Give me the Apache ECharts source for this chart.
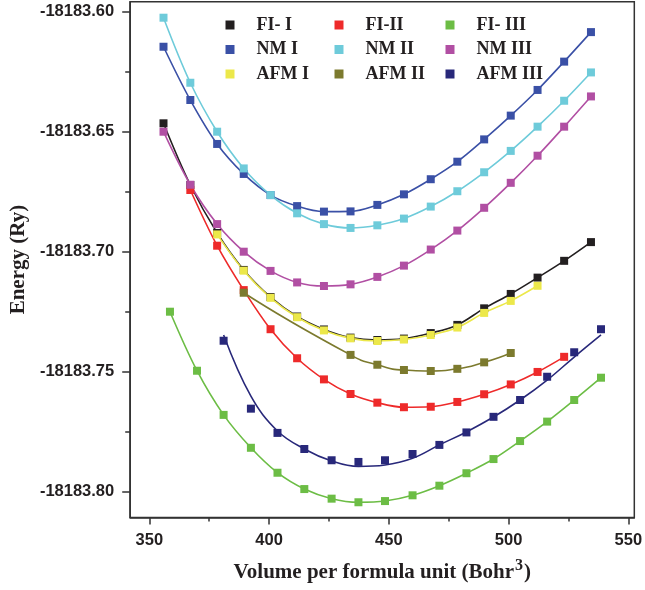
<!DOCTYPE html>
<html>
<head>
<meta charset="utf-8">
<script src="https://cdn.jsdelivr.net/npm/echarts@6/dist/echarts.min.js"></script>
<style>
html,body{margin:0;padding:0;background:#fff;}
#chart{width:645px;height:590px;}
</style>
</head>
<body>
<div id="chart"></div>
<script>
// ---- data ----
var seriesNames = ['FI- I','FI-II','FI- III','NM I','NM II','NM III','AFM I','AFM II','AFM III'];

var volFI_I   = [355.9,367.1,378.3,389.4,400.6,411.7,422.9,434.0,445.2,456.3,467.5,478.6,489.8,500.9,512.1,523.2,534.4];
var eFI_I     = [-18183.6465,-18183.6722,-18183.6922,-18183.7076,-18183.7189,-18183.7270,-18183.7324,-18183.7358,-18183.7368,-18183.7362,-18183.7339,-18183.7305,-18183.7236,-18183.7176,-18183.7108,-18183.7038,-18183.6960];

var volFI_II  = [367.1,378.3,389.4,400.6,411.7,422.9,434.0,445.2,456.3,467.5,478.6,489.8,500.9,512.1,523.2];
var eFI_II    = [-18183.6743,-18183.6975,-18183.7160,-18183.7323,-18183.7444,-18183.7532,-18183.7593,-18183.7629,-18183.7648,-18183.7646,-18183.7626,-18183.7594,-18183.7553,-18183.7501,-18183.7438];

var volFI_III = [358.6,369.9,381.0,392.4,403.5,414.7,426.1,437.3,448.4,459.9,471.1,482.4,493.7,504.8,516.1,527.4,538.6];
var eFI_III   = [-18183.7250,-18183.7496,-18183.7680,-18183.7817,-18183.7921,-18183.7989,-18183.8029,-18183.8044,-18183.8039,-18183.8015,-18183.7975,-18183.7923,-18183.7864,-18183.7789,-18183.7708,-18183.7618,-18183.7525];

var volNM     = [355.9,367.1,378.3,389.4,400.6,411.7,422.9,434.0,445.2,456.3,467.5,478.6,489.8,500.9,512.1,523.2,534.4];
var eNM_I     = [-18183.6146,-18183.6368,-18183.6551,-18183.6676,-18183.6764,-18183.6810,-18183.6833,-18183.6832,-18183.6805,-18183.6761,-18183.6698,-18183.6625,-18183.6532,-18183.6433,-18183.6326,-18183.6208,-18183.6085];
var eNM_II    = [-18183.6025,-18183.6296,-18183.6500,-18183.6653,-18183.6764,-18183.6840,-18183.6885,-18183.6901,-18183.6890,-18183.6862,-18183.6812,-18183.6748,-18183.6669,-18183.6580,-18183.6479,-18183.6371,-18183.6253];
var eNM_III   = [-18183.6500,-18183.6721,-18183.6885,-18183.7000,-18183.7080,-18183.7128,-18183.7143,-18183.7136,-18183.7105,-18183.7058,-18183.6991,-18183.6912,-18183.6817,-18183.6713,-18183.6600,-18183.6479,-18183.6353];

var volAFM_I  = [378.3,389.4,400.6,411.7,422.9,434.0,445.2,456.3,467.5,478.6,489.8,500.9,512.1];
var eAFM_I    = [-18183.6928,-18183.7079,-18183.7192,-18183.7273,-18183.7328,-18183.7361,-18183.7372,-18183.7366,-18183.7347,-18183.7316,-18183.7255,-18183.7205,-18183.7142];

var volAFM_II = [389.4,434.0,445.2,456.3,467.5,478.6,489.8,500.9];
var eAFM_II   = [-18183.7171,-18183.7430,-18183.7471,-18183.7493,-18183.7497,-18183.7488,-18183.7461,-18183.7422];

var volAFM_III = [381.0,392.4,403.5,414.7,426.1,437.3,448.4,459.9,471.1,482.4,493.7,504.8,516.1,527.4,538.6];
var eAFM_III   = [-18183.7371,-18183.7654,-18183.7755,-18183.7822,-18183.7869,-18183.7876,-18183.7869,-18183.7843,-18183.7805,-18183.7753,-18183.7688,-18183.7618,-18183.7521,-18183.7419,-18183.7323];
var eAFM_III_fit = [-18183.7347,-18183.7602,-18183.7747,-18183.7822,-18183.7872,-18183.7895,-18183.7889,-18183.7861,-18183.7805,-18183.7751,-18183.7689,-18183.7618,-18183.7535,-18183.7439,-18183.7347];

var xTickLabels = [350,400,450,500,550];
var xMinorTicks = [375,425,475,525];
var yTickLabels = [-18183.80,-18183.75,-18183.70,-18183.65,-18183.60];
var yMinorTicks = [-18183.775,-18183.725,-18183.675,-18183.625];

// ---- styling ----
var colors = {
  'FI- I':'#231f20','FI-II':'#ee2a2a','FI- III':'#6cbd45',
  'NM I':'#3a50a6','NM II':'#6ecbda','NM III':'#b14fa3',
  'AFM I':'#ece84a','AFM II':'#7c7a2e','AFM III':'#28287a'
};
function pairs(v,e){ return v.map(function(x,i){ return [x,e[i]]; }); }

function lineSeries(name, v, e, sm){
  return {
    name:name, type:'line', data:pairs(v,e), smooth:(sm || 0.35),
    symbol:'rect', symbolSize:8, showSymbol:true,
    lineStyle:{color:colors[name], width:1.6},
    itemStyle:{color:colors[name], opacity:1},
    emphasis:{disabled:true}, animation:false
  };
}

var series = [
  lineSeries('FI- I', volFI_I, eFI_I),
  lineSeries('FI-II', volFI_II, eFI_II),
  lineSeries('FI- III', volFI_III, eFI_III),
  lineSeries('NM I', volNM, eNM_I),
  lineSeries('NM II', volNM, eNM_II),
  lineSeries('NM III', volNM, eNM_III),
  lineSeries('AFM I', volAFM_I, eAFM_I),
  lineSeries('AFM II', volAFM_II, eAFM_II, 0.6),
  {
    name:'AFM III fit', type:'line', data:pairs(volAFM_III, eAFM_III_fit), smooth:0.4,
    showSymbol:false, symbol:'none', lineStyle:{color:colors['AFM III'], width:1.6},
    itemStyle:{color:colors['AFM III']}, emphasis:{disabled:true}, animation:false
  },
  {
    name:'AFM III', type:'scatter', data:pairs(volAFM_III, eAFM_III),
    symbol:'rect', symbolSize:8, itemStyle:{color:colors['AFM III'], opacity:1},
    emphasis:{disabled:true}, animation:false
  }
];

var legendText = {fontFamily:'Liberation Serif', fontWeight:'bold', fontSize:18, color:'#231f20', lineHeight:20, padding:[0,0,0,17]};
function legendCol(names, left){
  return {
    orient:'vertical', left:left, top:10, itemGap:4.5, itemWidth:9, itemHeight:9,
    icon:'rect', data:names, textStyle:legendText, selectedMode:false,
    itemStyle:{opacity:1}
  };
}

var axisFont = {fontFamily:'Liberation Sans', fontWeight:'bold', fontSize:16.5, color:'#231f20'};
var axisCol = '#333333';

var option = {
  backgroundColor:'#ffffff',
  animation:false,
  grid:{left:122.7, right:5.7, top:1.7, bottom:72.5, show:true, borderColor:axisCol, borderWidth:1.5, backgroundColor:'transparent'},
  legend:[
    legendCol(['FI- I','NM I','AFM I'], 220.5),
    legendCol(['FI-II','NM II','AFM II'], 329.5),
    legendCol(['FI- III','NM III','AFM III'], 440.5)
  ],
  xAxis:[
    {
      type:'value', min:342, max:552.5, position:'bottom',
      axisLine:{show:true, onZero:false, lineStyle:{color:axisCol, width:1.5}},
      axisTick:{show:true, customValues:xTickLabels, length:7, lineStyle:{color:axisCol, width:1.5}},
      axisLabel:Object.assign({customValues:xTickLabels, margin:14}, axisFont),
      splitLine:{show:false},
      name:'{base|Volume per formula unit (Bohr}{sup|3}{base|)}',
      nameLocation:'middle', nameGap:42,
      nameTextStyle:{
        fontFamily:'Liberation Serif', fontWeight:'bold', fontSize:21, color:'#231f20',
        rich:{
          base:{fontFamily:'Liberation Serif', fontWeight:'bold', fontSize:21, color:'#231f20', verticalAlign:'bottom', lineHeight:24},
          sup:{fontFamily:'Liberation Serif', fontWeight:'bold', fontSize:16, color:'#231f20', verticalAlign:'bottom', lineHeight:16, padding:[0,1,10,1]}
        }
      }
    },
    {
      type:'value', min:342, max:552.5, position:'bottom',
      axisLine:{show:false},
      axisTick:{show:true, customValues:xMinorTicks, length:4, lineStyle:{color:axisCol, width:1.5}},
      axisLabel:{show:false, customValues:xMinorTicks},
      splitLine:{show:false}
    }
  ],
  yAxis:[
    {
      type:'value', min:-18183.81075, max:-18183.59583, position:'left',
      axisLine:{show:true, onZero:false, lineStyle:{color:axisCol, width:1.5}},
      axisTick:{show:true, customValues:yTickLabels, length:8, lineStyle:{color:axisCol, width:1.5}},
      axisLabel:Object.assign({customValues:yTickLabels, margin:16, formatter:function(v){return v.toFixed(2);}}, axisFont),
      splitLine:{show:false},
      name:'Energy (Ry)', nameLocation:'middle', nameGap:94, nameRotate:90,
      nameTextStyle:{fontFamily:'Liberation Serif', fontWeight:'bold', fontSize:21, color:'#231f20'}
    },
    {
      type:'value', min:-18183.81075, max:-18183.59583, position:'left',
      axisLine:{show:false},
      axisTick:{show:true, customValues:yMinorTicks, length:5, lineStyle:{color:axisCol, width:1.5}},
      axisLabel:{show:false, customValues:yMinorTicks},
      splitLine:{show:false}
    }
  ],
  series:series
};

var chart = echarts.init(document.getElementById('chart'), null, {renderer:'canvas'});
chart.setOption(option);
</script>
</body>
</html>
